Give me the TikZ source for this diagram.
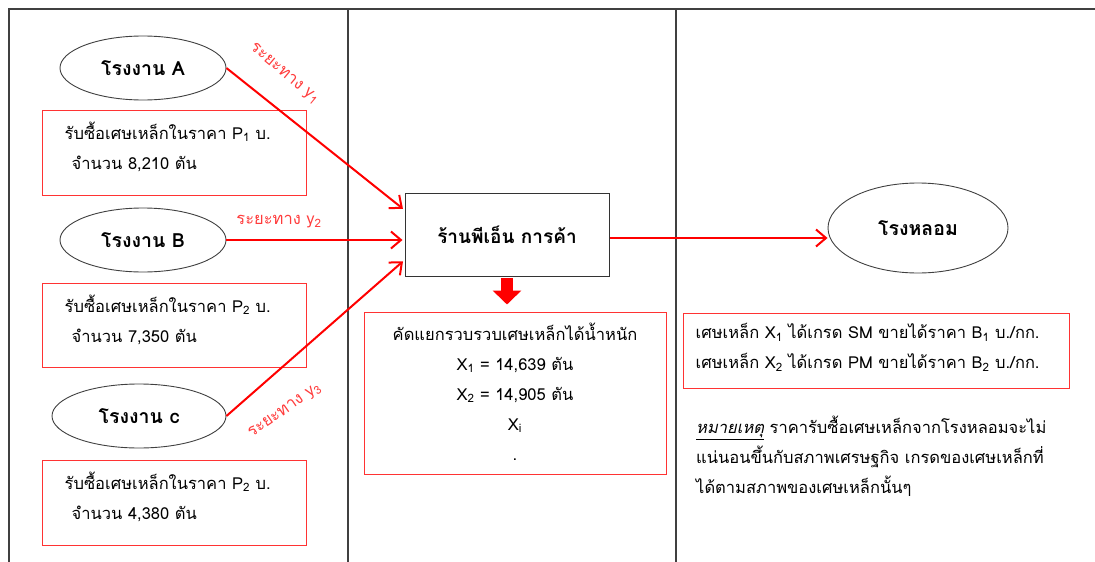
\documentclass[tikz,border=0pt]{standalone}
\usepackage{fontspec}
\setmainfont{Loma}[Script=Thai]
\usetikzlibrary{positioning, shapes.geometric, arrows.meta}
\definecolor{framegray}{RGB}{64,64,64}
\definecolor{boxred}{RGB}{255,51,51}
\definecolor{labelred}{RGB}{255,60,60}

\begin{document}
\begin{tikzpicture}[x=1pt, y=-1pt, node distance=10pt]
    % Define styles
    \tikzstyle{factory} = [ellipse, draw=black!75, line width=0.9pt,
        minimum width=166pt, minimum height=64pt, font=\fontsize{19.5}{22}\selectfont\bfseries]
    \tikzstyle{infobox} = [rectangle, draw=boxred, line width=1pt]
    \tikzstyle{shopbox} = [rectangle, draw=black!80, line width=1pt,
        minimum width=204pt, minimum height=83pt, font=\fontsize{19}{22}\selectfont\bfseries]
    \tikzstyle{body} = [inner sep=0pt, align=left, font=\fontsize{16.5}{30}\selectfont]
    \tikzstyle{dist} = [text=labelred, inner sep=0pt, font=\fontsize{16.5}{18}\selectfont]
    \tikzstyle{line} = [draw=red, line width=2pt, -{Straight Barb[length=10pt,width=17pt]}]

    \useasboundingbox (0,0) rectangle (1095,562);

    % Frame and columns
    \draw [framegray, line width=1.8pt] (9,562) -- (9,9) -- (1095,9);
    \draw [framegray, line width=1.6pt] (348,9) -- (348,562);
    \draw [framegray, line width=1.6pt] (676,9) -- (676,562);

    % Place nodes
    \node [factory] (factA) at (143,68) {โรงงาน A};
    \node [infobox, minimum width=264pt, minimum height=85pt] (buyA) at (174,152.5) {};
    \node [body, below right=12pt and 23pt of buyA.north west] (buyAtext)
        {รับซื้อเศษเหล็กในราคา P\textsubscript{1} บ.\\\hspace{7pt}จำนวน 8,210 ตัน};

    \node [factory] (factB) at (143,240) {โรงงาน B};
    \node [infobox, minimum width=264pt, minimum height=84pt] (buyB) at (174,325) {};
    \node [body, below right=12pt and 23pt of buyB.north west] (buyBtext)
        {รับซื้อเศษเหล็กในราคา P\textsubscript{2} บ.\\\hspace{7pt}จำนวน 7,350 ตัน};

    \node [factory, minimum width=174pt] (factC) at (139,416) {โรงงาน c};
    \node [infobox, minimum width=264pt, minimum height=85pt] (buyC) at (174,502.5) {};
    \node [body, below right=12pt and 23pt of buyC.north west] (buyCtext)
        {รับซื้อเศษเหล็กในราคา P\textsubscript{2} บ.\\\hspace{7pt}จำนวน 4,380 ตัน};

    % Middle column
    \node [shopbox] (shop) at (507,235) {ร้านพีเอ็น การค้า};
    \node [infobox, minimum width=302pt, minimum height=162pt] (sortbox) at (515,393) {};
    \node [body, align=center, below=11pt of sortbox.north] (sorttext)
        {คัดแยกรวบรวบเศษเหล็กได้น้ำหนัก\\X\textsubscript{1} = 14,639 ตัน\\X\textsubscript{2} = 14,905 ตัน\\X\textsubscript{i}\\.};

    % Right column
    \node [factory, minimum width=180pt, minimum height=90pt] (foundry) at (918,228) {โรงหลอม};
    \node [infobox, minimum width=386pt, minimum height=75pt] (gradebox) at (876,350.5) {};
    \node [body, below right=11pt and 13pt of gradebox.north west] (gradetext)
        {เศษเหล็ก X\textsubscript{1} ได้เกรด SM ขายได้ราคา B\textsubscript{1} บ./กก.\\
         เศษเหล็ก X\textsubscript{2} ได้เกรด PM ขายได้ราคา B\textsubscript{2} บ./กก.};
    \node [body, anchor=north west] (note) at (696,416)
        {\underline{\textit{หมายเหตุ}} ราคารับซื้อเศษเหล็กจากโรงหลอมจะไม่\\
         แน่นอนขึ้นกับสภาพเศรษฐกิจ เกรดของเศษเหล็กที่\\
         ได้ตามสภาพของเศษเหล็กนั้นๆ};

    % Draw edges
    \path [line, shorten >=2pt] (factA.east) -- ([yshift=25pt]shop.west);
    \path [line, shorten >=2pt] (factB.east) -- (factB.east -| shop.west);
    \path [line, shorten >=2pt] (factC.east) -- ([yshift=-25pt]shop.west);
    \path [line] ([yshift=-3pt]shop.east) -- ([yshift=-3pt]shop.east -| foundry.west);
    \draw [red, line width=12pt, -{Triangle[length=14pt,width=28pt]},
        shorten <=1pt, shorten >=7pt] (shop.south) -- (shop.south |- sortbox.north);

    % Distance labels
    \node [dist, rotate=-40] (distA) at (284,74) {ระยะทาง y\textsubscript{1}};
    \node [dist] (distB) at (279,222) {ระยะทาง y\textsubscript{2}};
    \node [dist, rotate=35] (distC) at (285,411) {ระยะทาง y\textsubscript{3}};
\end{tikzpicture}
\end{document}
